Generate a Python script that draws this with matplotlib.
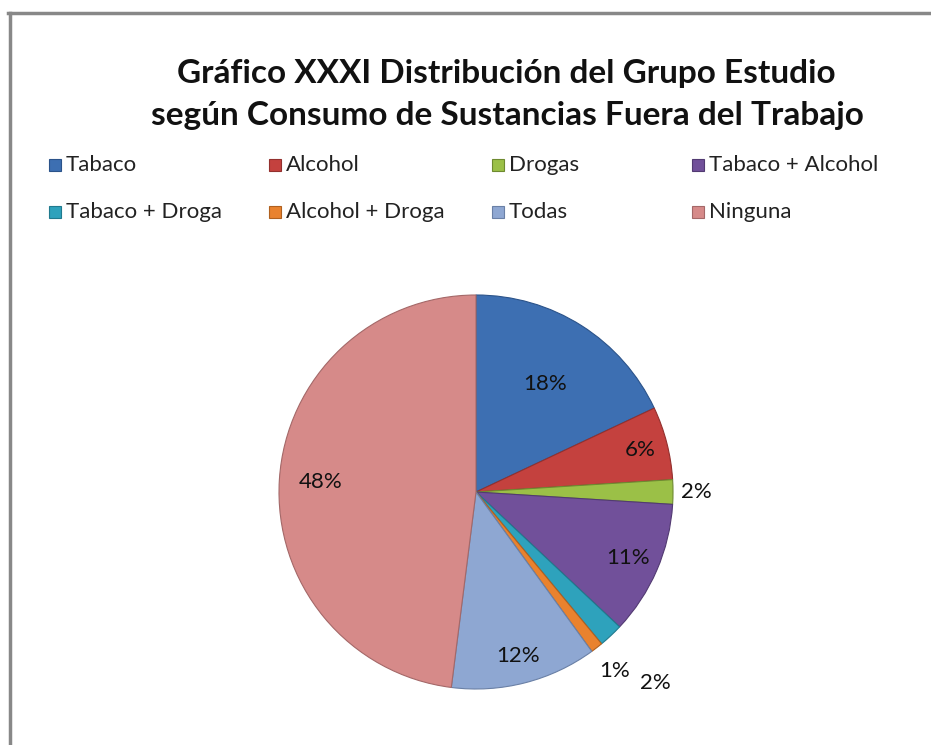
import numpy as np
import matplotlib
matplotlib.use("Agg")
import matplotlib.pyplot as plt
from matplotlib.patches import Rectangle
from matplotlib.lines import Line2D

plt.rcParams['font.family'] = ['Lato', 'DejaVu Sans']

# data
categories = ['Tabaco', 'Alcohol', 'Drogas', 'Tabaco + Alcohol',
              'Tabaco + Droga', 'Alcohol + Droga', 'Todas', 'Ninguna']
percents = [18, 6, 2, 11, 2, 1, 12, 48]

colors = ['#3D6FB2', '#C4413E', '#9BC047', '#71509A',
          '#2EA2BC', '#E9822E', '#8EA7D2', '#D68A89']
edge_colors = ['#2B538A', '#93302E', '#6E8A30', '#523A72',
               '#207A8E', '#B0601F', '#6A80A6', '#A46868']
# radial position of each percent label (fraction of radius)
label_dist = [0.65, 0.86, 1.12, 0.84, 1.33, 1.15, 0.86, 0.79]

W, H = 931, 745
fig = plt.figure(figsize=(W / 100, H / 100), dpi=100)
fig.patch.set_facecolor('white')

# frame lines (left and top)
fig.add_artist(Line2D([9.5 / W, 9.5 / W], [0, 1 - 13 / H], color='#888888', lw=2.5))
fig.add_artist(Line2D([8 / W, 1], [1 - 13 / H, 1 - 13 / H], color='#888888', lw=2.5))

# title
fig.text(506 / W, 1 - 73 / H, 'Gráfico XXXI Distribución del Grupo Estudio',
         ha='center', va='center', fontsize=24, fontweight='bold', color='#111111')
fig.text(507 / W, 1 - 115 / H, 'según Consumo de Sustancias Fuera del Trabajo',
         ha='center', va='center', fontsize=24, fontweight='bold', color='#111111')

# legend (two rows of four)
col_x = [55, 275, 498, 698]
row_y = [165, 212]
for i, (cat, c) in enumerate(zip(categories, colors)):
    x = col_x[i % 4]
    y = row_y[i // 4]
    fig.add_artist(Rectangle(((x - 6) / W, 1 - (y + 6) / H), 12 / W, 12 / H,
                             facecolor=c, edgecolor=edge_colors[i], lw=0.8,
                             transform=fig.transFigure))
    fig.text((x + 11) / W, 1 - y / H, cat, ha='left', va='center',
             fontsize=16, color='#222222')

# pie
cx, cy, r = 476, 492, 197
ax = fig.add_axes([(cx - r) / W, (H - cy - r) / H, 2 * r / W, 2 * r / H])
wedges, _ = ax.pie(percents, colors=colors, startangle=90, counterclock=False,
                   wedgeprops=dict(linewidth=0.8))
for w, ec in zip(wedges, edge_colors):
    w.set_edgecolor(ec)
ax.set_xlim(-1, 1)
ax.set_ylim(-1, 1)
ax.set_aspect('auto')
ax.axis('off')

for w, p, d in zip(wedges, percents, label_dist):
    ang = np.deg2rad((w.theta1 + w.theta2) / 2)
    ax.text(d * np.cos(ang), d * np.sin(ang), f'{p}%', ha='center', va='center',
            fontsize=16, color='#111111')

fig.savefig('out.png', dpi=100, facecolor='white')
